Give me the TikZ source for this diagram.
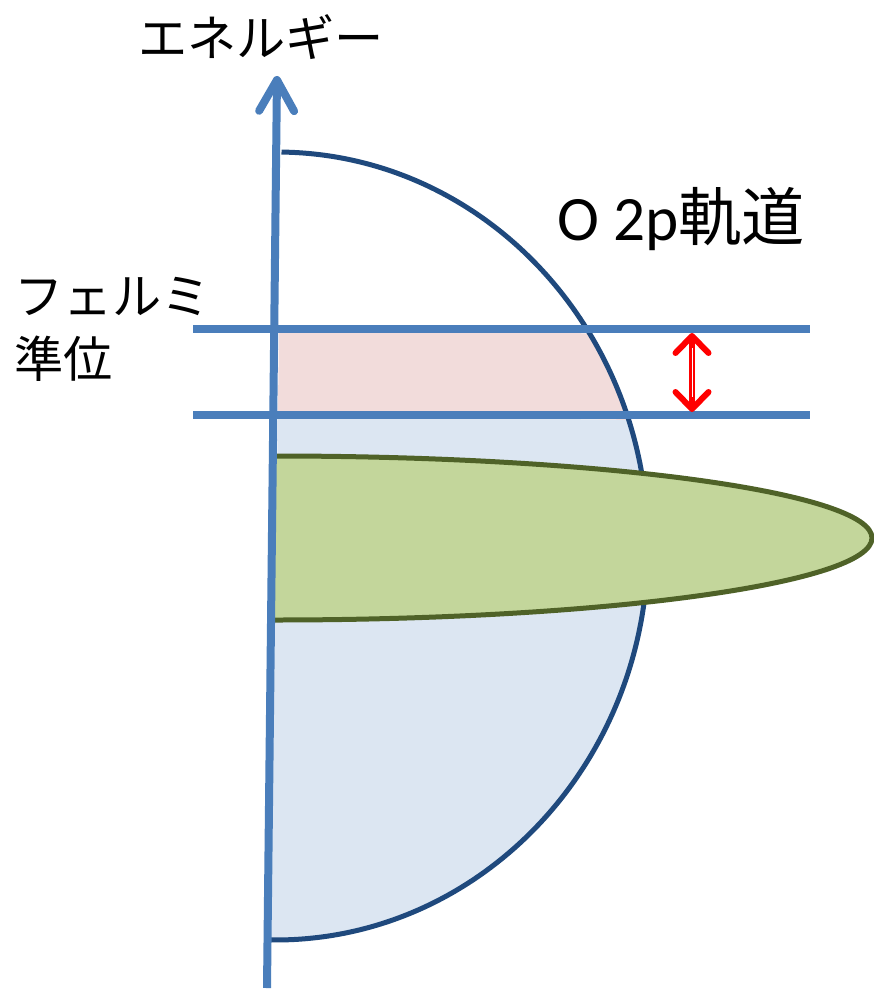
\documentclass[tikz,border=0pt]{standalone}
\usepackage{fontspec}
\setmainfont{Carlito}
\newfontfamily\jfont{Noto Sans CJK JP}
\usetikzlibrary{arrows.meta}
\definecolor{cAxis}{HTML}{4A7EBB}
\definecolor{cEdge}{HTML}{1F497D}
\definecolor{cBand}{HTML}{DCE6F2}
\definecolor{cGap}{HTML}{F2DCDB}
\definecolor{cMet}{HTML}{C3D69B}
\definecolor{cMetEdge}{HTML}{4F6228}

\begin{document}
\begin{tikzpicture}[
  x=0.02cm,y=-0.02cm,
  lbl/.style={font=\fontsize{28}{36}\selectfont,inner sep=0pt},
  axis/.style={draw=cAxis,line width=0.16cm,
               -{Straight Barb[length=0.62cm,width=0.7cm,round]}},
  level/.style={draw=cAxis,line width=0.16cm},
  band/.style={draw=cEdge,line width=0.1cm},
  met/.style={draw=cMetEdge,line width=0.1cm},
  gap/.style={draw=red,line width=0.12cm,
              {Straight Barb[length=0.34cm,width=0.66cm,round]}-{Straight Barb[length=0.34cm,width=0.66cm,round]}},
  ]
  \useasboundingbox (0,0) rectangle (874,990);

  % O 2p band (half ellipse, slightly tilted with the axis)
  \begin{scope}[rotate around={-0.8:(276,546)}]
    \begin{scope}
      \clip (276,152) arc[start angle=-90,end angle=90,x radius=372,y radius=394] -- cycle;
      \fill[cGap] (260,329) rectangle (700,415);
      \fill[cBand] (260,415) rectangle (700,960);
    \end{scope}
    \draw[band] (276,152) arc[start angle=-90,end angle=90,x radius=372,y radius=394];
  \end{scope}

  % metal band
  \fill[cMet] (275,456) arc[start angle=-90,end angle=90,x radius=597,y radius=82] -- cycle;
  \draw[met] (275,456) arc[start angle=-90,end angle=90,x radius=597,y radius=82];

  \coordinate (axbot) at (267,988);
  \coordinate (axtop) at (277,76);
  \coordinate (fl1w) at (193,329);
  \coordinate (fl1e) at (810,329);
  \coordinate (fl2w) at (193,415);
  \coordinate (fl2e) at (810,415);
  \coordinate (gaptop) at (692,333);
  \coordinate (gapbot) at (692,412);

  \draw[level] (fl1w) -- (fl1e);
  \draw[level] (fl2w) -- (fl2e);
  \draw[axis] (axbot) -- (axtop);
  \draw[gap] (gaptop) -- (gapbot);
  \draw[white,line width=0.5pt] ([yshift=-0.3cm]gaptop) -- ([yshift=0.3cm]gapbot);

  \node[lbl] (energy) at (261,37) {\jfont エネルギー};
  \node[lbl,font=\fontsize{36}{42}\selectfont] (orbital) at (681,219) {O 2p{\jfont 軌道}};
  \node[lbl,align=left,anchor=west] (fermi) at (14,329) {\jfont フェルミ\\\jfont 準位};
\end{tikzpicture}
\end{document}
